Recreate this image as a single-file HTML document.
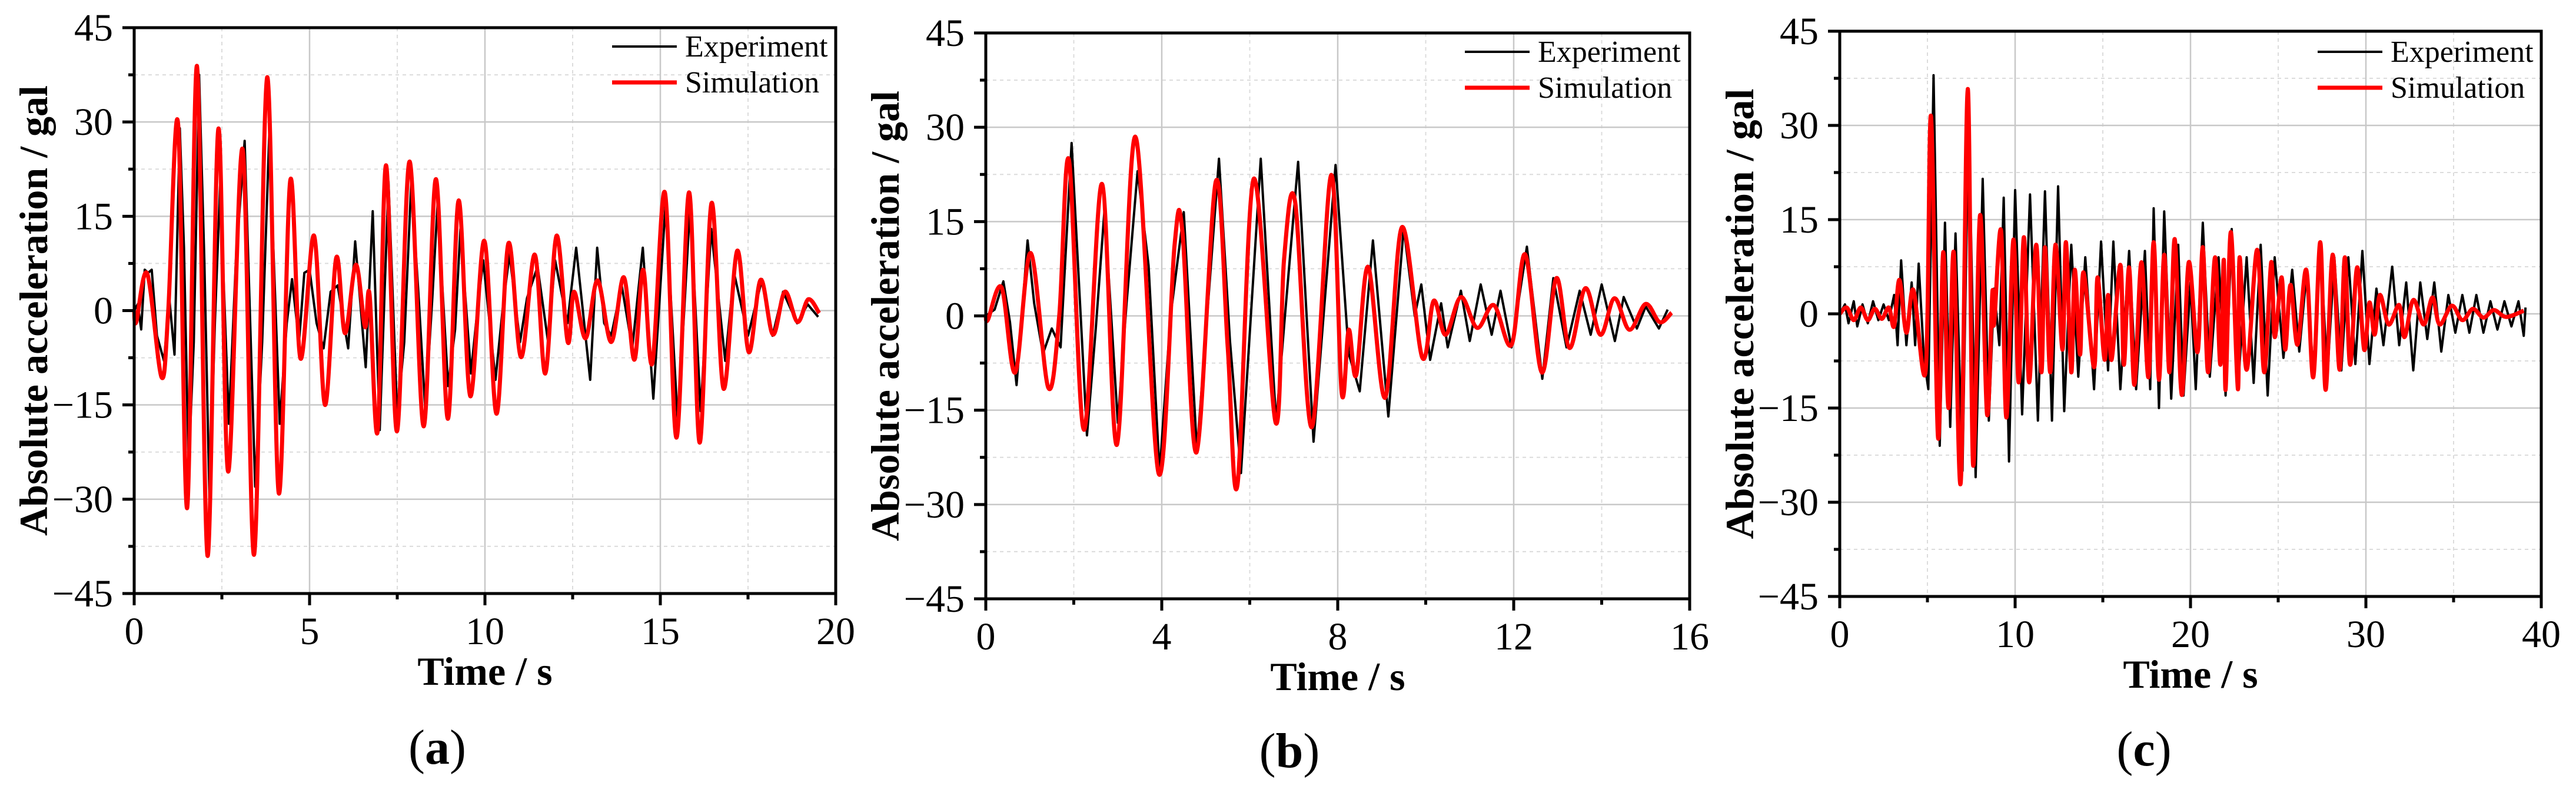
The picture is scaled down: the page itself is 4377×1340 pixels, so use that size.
<!DOCTYPE html>
<html><head><meta charset="utf-8"><style>
html,body{margin:0;padding:0;background:#fff;width:4377px;height:1340px;overflow:hidden}
svg{display:block}
text{font-family:"Liberation Serif",serif;fill:#000}
</style></head><body>
<svg id="fig" width="4377" height="1340" xmlns="http://www.w3.org/2000/svg"></svg>
<script>
// ---------- Panel (a) data ----------
const simA_t=[0,0.06,0.37,0.78,0.97,1.25,1.51,1.79,2.09,2.40,2.68,3.09,3.42,3.79,4.12,4.45,4.74,5.13,5.44,5.76,6.01,6.32,6.58,6.71,6.94,7.18,7.49,7.85,8.25,8.60,8.94,9.25,9.58,9.98,10.33,10.67,11.03,11.42,11.72,12.04,12.36,12.54,12.87,13.21,13.60,13.96,14.26,14.51,14.77,15.13,15.46,15.82,16.12,16.46,16.80,17.19,17.52,17.86,18.21,18.55,18.91,19.22,19.53];
const simA_v=[0,-1.8,5.9,-10.6,-0.2,29.8,-31.4,38.9,-39,28.9,-25.6,25.7,-38.8,37.1,-29,20.7,-7.6,11.9,-15,8.4,-3.6,7.3,-2.6,2.6,-19.2,23.1,-19.2,23.7,-18.4,20.9,-17.2,17.5,-13.6,11.1,-16.4,10.7,-7.4,8.9,-10,11.9,-5,3,-4.4,4.8,-5,5.3,-7.8,6.5,-8.4,18.8,-20.2,18.8,-21,17.1,-12.4,9.5,-6.6,4.9,-3.8,3,-1.8,1.8,-0.4];
const expA_t=[0,0.1,0.2,0.3,0.4,0.5,0.65,0.85,1.0,1.15,1.3,1.42,1.55,1.7,1.85,2.0,2.15,2.3,2.45,2.7,2.9,3.15,3.45,3.65,3.85,4.15,4.35,4.5,4.7,4.85,5.0,5.2,5.4,5.6,5.8,6.1,6.3,6.6,6.8,7.0,7.25,7.5,7.7,7.9,8.1,8.3,8.5,8.65,8.95,9.15,9.3,9.6,9.8,9.95,10.3,10.5,10.7,11.0,11.2,11.5,11.8,12.0,12.35,12.6,13.0,13.2,13.4,13.6,13.9,14.2,14.5,14.8,15.15,15.5,15.85,16.15,16.45,16.85,17.1,17.5,17.9,18.2,18.5,18.9,19.2,19.5];
const expA_v=[0,1,-3,6.5,6,6.5,-4,-8,2,-7,29,10,-25,-5,37.5,8,-31,-2,20,-18,8,27,-28,-5,28,-18,-2,5,-5,6,6.5,-2,-6,3,4,-6,11,-9,15.8,-19,20.5,-17,-5,20.5,3,-16,2,17,-12,-3,13,-10,1,8,-11,0,9,-5,2,7,-5,8,-2,10,-11,10,-2,-4,4,-6,10,-14,17,-18,17,-16,13,-8,6,-4,5,-4,3,-2,1,-1];
// ---------- Panel (b) data ----------
const simB_t=[0,0.05,0.36,0.67,1.02,1.42,1.67,1.89,2.23,2.64,2.98,3.40,3.93,4.29,4.47,4.79,5.23,5.50,5.72,6.09,6.59,6.78,7.03,7.41,7.85,8.09,8.25,8.42,8.69,9.08,9.46,9.92,10.18,10.45,10.80,11.17,11.55,11.95,12.26,12.64,12.97,13.27,13.63,13.97,14.29,14.63,15.00,15.32,15.59];
const simB_v=[0,-0.6,4.5,-9,10,-11.4,0,24.8,-18.1,21,-20.5,28.5,-25.1,11.2,13.4,-21.7,21.4,-5,-26.9,21.8,-17,9,18.2,-17.7,22.4,-12.2,-2.2,-9.4,7.8,-13,14.1,-6.6,2.4,-3,3,-1.9,1.7,-4.6,9.8,-9,6,-5.1,4.4,-3,2.8,-2.2,1.9,-1,0.5];
const expB_t=[0,0.2,0.4,0.55,0.7,0.95,1.1,1.3,1.5,1.7,1.95,2.3,2.5,2.7,3.0,3.2,3.45,3.7,3.95,4.2,4.5,4.8,5.3,5.55,5.8,6.25,6.6,6.8,7.1,7.45,7.95,8.25,8.5,8.8,9.15,9.5,9.75,9.9,10.1,10.35,10.5,10.8,11.0,11.25,11.5,11.7,11.95,12.3,12.65,12.9,13.2,13.5,13.75,14.0,14.3,14.5,14.8,15.0,15.3,15.5];
const expB_v=[0,1,5.5,-1,-11,12,2,-6,-2,-5,27.5,-19,-2,17,-17,2,23,8,-25,0,16.5,-21.5,25,-4,-25,25,-17,0,24.5,-20,24,-6,-12,12,-16,14,0,5,-7,2,-5,4,-4,5,-3,4,-5,11,-10,6,-5,4,-3,5,-4,3,-2,1.5,-2,1];
// ---------- Panel (c) data ----------
const simC_t=[0,0.4,0.8,1.2,1.6,2.0,2.4,2.8,3.1,3.4,3.8,4.2,4.9,5.2,5.6,5.9,6.2,6.5,6.9,7.3,7.6,8.0,8.4,8.7,8.8,9.2,9.5,9.9,10.2,10.5,10.8,11.2,11.5,11.7,12.0,12.3,12.7,12.9,13.2,13.4,13.7,13.9,14.5,14.7,15.1,15.3,15.5,16.0,16.2,16.5,16.8,17.2,17.6,17.9,18.2,18.5,18.8,19.1,19.5,19.9,20.4,20.7,21.0,21.4,21.7,21.9,22.0,22.3,22.7,22.8,23.2,23.8,24.2,24.6,24.8,25.2,25.4,25.7,26.1,26.6,27.0,27.4,27.7,28.1,28.5,28.8,29.1,29.5,29.9,30.2,30.5,30.8,31.3,31.9,32.2,32.7,33.3,33.8,34.2,34.9,35.5,36.1,36.7,37.3,38.0,39.0];
const simC_v=[0,1,-1,1,-1,0.8,-0.8,1,-2,5.4,-3,3.8,-9,31.5,-19.6,9.8,-15,9.8,-26.8,35.8,-24,15.7,-16,3.4,-1.7,13.2,-16.5,11.8,-10.9,12.2,-10.9,11,-9.3,10.6,-9.3,11,-5.7,11.4,-9.3,7,-6.5,6.6,-8.5,5.8,-7.3,3,-7.3,7.8,-8.1,7.4,-11.3,8.2,-10.1,11.4,-10.5,9.4,-9.3,11.9,-12.9,8.2,-6.1,10.6,-9.3,9,-8.1,8.6,-12.1,13,-12,9,-8.9,10.2,-9.3,8.2,-3.7,5.8,-5.7,4.6,-4.9,7,-10.1,11.4,-12.1,9.4,-8.9,9,-8.1,7.4,-5.7,1.8,-3.3,3,-1.7,1.4,-3.7,2.2,-1.7,2.6,-1.7,1.3,-1,0.8,-0.6,0.6,-0.5,0.5];
const expC_t=[0,0.3,0.5,0.8,1.0,1.3,1.6,1.9,2.2,2.5,2.8,3.1,3.3,3.5,3.8,4.1,4.3,4.5,4.8,5.05,5.35,5.7,6.0,6.3,6.6,7.0,7.35,7.75,8.15,8.5,8.8,9.1,9.35,9.65,10.0,10.4,10.85,11.3,11.7,12.1,12.45,12.8,13.2,13.6,14.0,14.5,14.9,15.3,15.6,16.0,16.5,16.9,17.4,17.7,17.9,18.2,18.5,18.9,19.3,19.6,20.0,20.3,20.7,21.1,21.6,22.0,22.35,22.7,23.2,23.6,24.0,24.4,24.8,25.3,25.8,26.2,26.6,27.0,27.4,27.8,28.2,28.6,29.0,29.4,29.8,30.2,30.6,31.0,31.5,31.9,32.3,32.7,33.1,33.5,33.9,34.3,34.7,35.1,35.5,35.9,36.3,36.7,37.1,37.5,37.9,38.3,38.7,39.0,39.1];
const expC_v=[0,1.5,-1.5,2,-2,1.5,-1.5,2,-1,1.5,-1,3,-5,8.5,-5,5,-5,8,-7,-12,38,-21,14.5,-18,12.8,-25,33,-26,21.5,-17,4,-5,18.5,-23.5,19.7,-16,19,-17,19.5,-17,20.3,-15.5,11,-10,9,-12,11.5,-9,11.5,-12,10,-12,10,-12,16.8,-15,16.3,-13.5,11,-13,5,-12,14.5,-10,9,-13,13.5,-12,9,-11,11,-13,9,-7,7,-6,6,-9,11.5,-10,9,-9,9,-8,10,-8,4,-5,7.5,-5,5,-9,5,-4,5,-6,3,-3,3,-3,3,-3,2,-2.5,2,-2,2,-3.5,1];
// tick labels
const yTicks=[-45,-30,-15,0,15,30,45];
const xTicksA=[0,5,10,15,20];
const xTicksB=[0,4,8,12,16];
const xTicksC=[0,10,20,30,40];

const NS="http://www.w3.org/2000/svg";
const svg=document.getElementById('fig');
function mk(tag,attrs,parent){const e=document.createElementNS(NS,tag);for(const k in attrs)e.setAttribute(k,attrs[k]);(parent||svg).appendChild(e);return e;}

function smoothPath(pts){
  let d="M"+pts[0][0].toFixed(1)+","+pts[0][1].toFixed(1);
  for(let i=0;i<pts.length-1;i++){
    const p0=pts[Math.max(0,i-1)],p1=pts[i],p2=pts[i+1],p3=pts[Math.min(pts.length-1,i+2)];
    const c1x=p1[0]+(p2[0]-p0[0])/6,c1y=p1[1]+(p2[1]-p0[1])/6;
    const c2x=p2[0]-(p3[0]-p1[0])/6,c2y=p2[1]-(p3[1]-p1[1])/6;
    d+=" C"+c1x.toFixed(1)+","+c1y.toFixed(1)+" "+c2x.toFixed(1)+","+c2y.toFixed(1)+" "+p2[0].toFixed(1)+","+p2[1].toFixed(1);
  }
  return d;
}

function panel(cfg){
  const g=mk('g',{});
  
  
  const L=cfg.left,R=cfg.right,T=cfg.top,B=cfg.bottom,xmax=cfg.xmax;
  const sx=t=>L+(t/xmax)*(R-L);
  const sy=v=>T+(45-v)/90*(B-T);
  for(let i=0;i<cfg.xt.length-1;i++){
    const xm=(cfg.xt[i]+cfg.xt[i+1])/2;
    const l=mk('line',{x1:sx(xm),x2:sx(xm),y1:T,y2:B,stroke:'#dcdcdc','stroke-width':2,'stroke-dasharray':'6,6'},g);
    
    
  }
  for(let i=0;i<yTicks.length-1;i++){
    const ym=(yTicks[i]+yTicks[i+1])/2;
    const l=mk('line',{x1:L,x2:R,y1:sy(ym),y2:sy(ym),stroke:'#dcdcdc','stroke-width':2,'stroke-dasharray':'6,6'},g);
    
    
  }
  cfg.xt.forEach(t=>{
    const l=mk('line',{x1:sx(t),x2:sx(t),y1:T,y2:B,stroke:'#c8c8c8','stroke-width':2.5},g);
    
    
  });
  yTicks.forEach(v=>{
    const l=mk('line',{x1:L,x2:R,y1:sy(v),y2:sy(v),stroke:'#c8c8c8','stroke-width':2.5},g);
    
    
  });
  let d="";
  cfg.et.forEach((t,i)=>{d+=(i?" L":"M")+sx(t).toFixed(1)+","+sy(cfg.ev[i]).toFixed(1);});
  const pe=mk('path',{d:d,fill:'none',stroke:'#000','stroke-width':4,'stroke-linejoin':'round'},g);
  
  
  const pts=cfg.st.map((t,i)=>[sx(t),sy(cfg.sv[i])]);
  const ps=mk('path',{d:smoothPath(pts),fill:'none',stroke:'#ff0000','stroke-width':7,'stroke-linejoin':'round'},g);
  
  
  const fr=mk('rect',{x:L,y:T,width:R-L,height:B-T,fill:'none',stroke:'#000','stroke-width':5},g);
  
  
  cfg.xt.forEach((t,i)=>{
    const tk=mk('line',{x1:sx(t),x2:sx(t),y1:B,y2:B+20,stroke:'#000','stroke-width':5},g);
    
    
    const tx=mk('text',{x:sx(t),y:B+86,'text-anchor':'middle','font-size':66},g);
    tx.textContent=t;
    
    
    if(i<cfg.xt.length-1){
      const xm=(t+cfg.xt[i+1])/2;
      const mt=mk('line',{x1:sx(xm),x2:sx(xm),y1:B,y2:B+10,stroke:'#000','stroke-width':5},g);
      
      
    }
  });
  yTicks.forEach((v,i)=>{
    const tk=mk('line',{x1:L-20,x2:L,y1:sy(v),y2:sy(v),stroke:'#000','stroke-width':5},g);
    
    
    const tx=mk('text',{x:L-36,y:sy(v)+22,'text-anchor':'end','font-size':66},g);
    tx.textContent=(v<0?'\u2212'+(-v):v);
    
    
    if(i<yTicks.length-1){
      const ym=(v+yTicks[i+1])/2;
      const mt=mk('line',{x1:L-10,x2:L,y1:sy(ym),y2:sy(ym),stroke:'#000','stroke-width':5},g);
      
      
    }
  });
  const xt=mk('text',{x:(L+R)/2,y:B+155,'text-anchor':'middle','font-size':68,'font-weight':'bold'},g);
  xt.textContent='Time / s';
  
  
  const yx=cfg.ytx, yy=(T+B)/2;
  const yt=mk('text',{x:yx,y:yy,'text-anchor':'middle','font-size':68,'font-weight':'bold',transform:'rotate(-90 '+yx+' '+yy+')'},g);
  yt.textContent='Absolute acceleration / gal';
  
  
  const lg=mk('g',{},g);
  
  
  const l1=mk('line',{x1:cfg.lgx,x2:cfg.lgx+110,y1:cfg.lgy,y2:cfg.lgy,stroke:'#000','stroke-width':4},lg);
  
  
  const t1=mk('text',{x:cfg.lgx+124,y:cfg.lgy+17,'font-size':52},lg);
  t1.textContent='Experiment';
  
  
  const l2=mk('line',{x1:cfg.lgx,x2:cfg.lgx+110,y1:cfg.lgy+61,y2:cfg.lgy+61,stroke:'#ff0000','stroke-width':7},lg);
  
  
  const t2=mk('text',{x:cfg.lgx+124,y:cfg.lgy+78,'font-size':52},lg);
  t2.textContent='Simulation';
  
  
  const pl=mk('text',{x:cfg.plx,y:cfg.ply,'text-anchor':'middle','font-size':84},g);
  pl.innerHTML='(<tspan font-weight="bold">'+cfg.id+'</tspan>)';
  
  
}

panel({id:'a',left:228,right:1420,top:47,bottom:1008,xmax:20,xt:xTicksA,et:expA_t,ev:expA_v,st:simA_t,sv:simA_v,ytx:80,lgx:1040,lgy:79,plx:743,ply:1297});
panel({id:'b',left:1675,right:2871,top:56,bottom:1017,xmax:16,xt:xTicksB,et:expB_t,ev:expB_v,st:simB_t,sv:simB_v,ytx:1527,lgx:2489,lgy:88,plx:2191,ply:1303});
panel({id:'c',left:3126,right:4318,top:53,bottom:1013,xmax:40,xt:xTicksC,et:expC_t,ev:expC_v,st:simC_t,sv:simC_v,ytx:2979,lgx:3938,lgy:88,plx:3643,ply:1300});
</script>
</body></html>
